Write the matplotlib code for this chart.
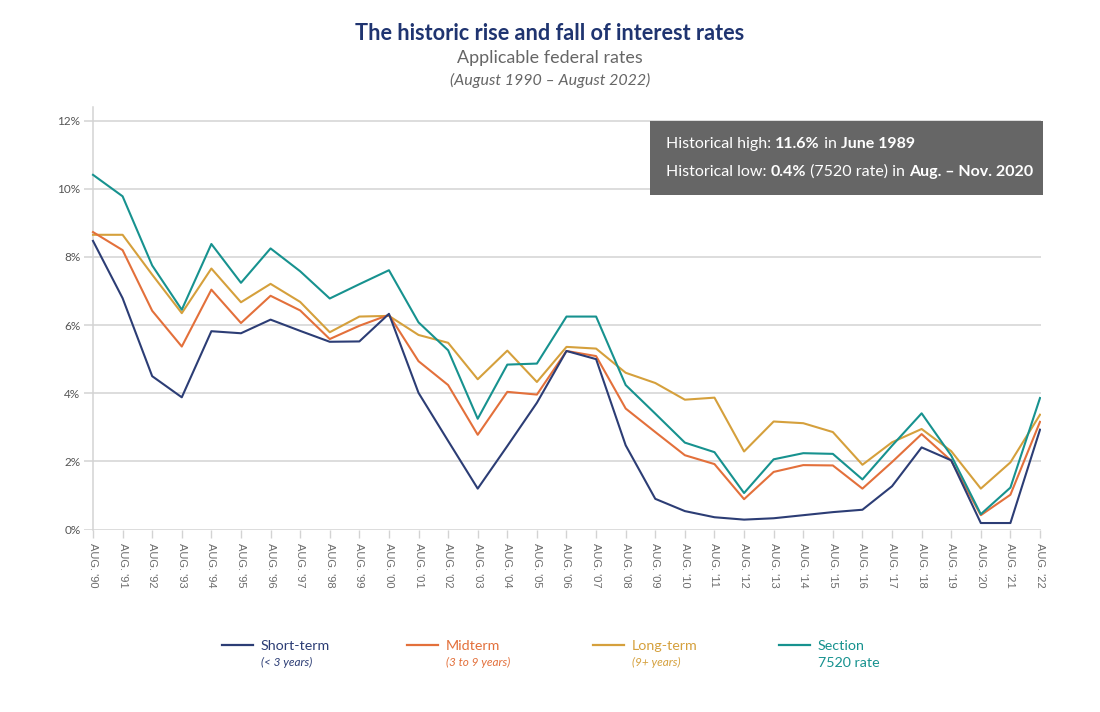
import matplotlib
matplotlib.use("Agg")
import matplotlib.pyplot as plt
from matplotlib.lines import Line2D
from matplotlib.patches import Rectangle

plt.rcParams['font.family'] = ['Lato', 'DejaVu Sans']

# values (percent), Aug 1990 .. Aug 2022
years = list(range(1990, 2023))
short_term = [8.47, 6.79, 4.50, 3.88, 5.82, 5.76, 6.16, 5.83, 5.51, 5.52, 6.33,
              4.01, 2.60, 1.20, 2.45, 3.72, 5.24, 5.00, 2.47, 0.90, 0.54, 0.36,
              0.29, 0.33, 0.42, 0.51, 0.58, 1.27, 2.41, 2.03, 0.19, 0.19, 2.93]
midterm = [8.73, 8.20, 6.42, 5.37, 7.04, 6.06, 6.86, 6.43, 5.59, 5.98, 6.30,
           4.94, 4.24, 2.78, 4.04, 3.96, 5.24, 5.09, 3.55, 2.86, 2.18, 1.92,
           0.89, 1.69, 1.89, 1.88, 1.20, 1.98, 2.80, 2.02, 0.42, 1.02, 3.16]
long_term = [8.65, 8.65, 7.48, 6.35, 7.66, 6.67, 7.21, 6.68, 5.79, 6.25, 6.27,
             5.71, 5.48, 4.41, 5.25, 4.33, 5.36, 5.31, 4.60, 4.30, 3.81, 3.87,
             2.29, 3.17, 3.12, 2.86, 1.90, 2.56, 2.95, 2.30, 1.20, 1.97, 3.37]
section_7520 = [10.41, 9.78, 7.75, 6.45, 8.38, 7.24, 8.25, 7.58, 6.78, 7.20, 7.61,
                6.08, 5.26, 3.25, 4.84, 4.87, 6.25, 6.25, 4.24, 3.40, 2.55, 2.27,
                1.07, 2.06, 2.24, 2.22, 1.47, 2.46, 3.41, 2.17, 0.45, 1.23, 3.86]
x_labels = [f"AUG. '{y % 100:02d}" for y in years]
y_ticks = [0, 2, 4, 6, 8, 10, 12]

navy = '#2c3d75'
orange = '#e3703b'
gold = '#d5a03c'
teal = '#17928f'
grid_col = '#d3d3d3'

W, H = 1100, 712
fig = plt.figure(figsize=(W / 100, H / 100), dpi=100)

# axes placed in pixel terms
px_per_x = 947 / 32
x0, x1 = -0.3, 32.05
left_px = 93 + x0 * px_per_x
width_px = (x1 - x0) * px_per_x
ymax = 12.4
px_per_y = 34.07
ax = fig.add_axes([left_px / W, (H - 529.5) / H, width_px / W, ymax * px_per_y / H])

xs = list(range(len(years)))
ax.plot(xs, short_term, color=navy, lw=1.5, zorder=5)
ax.plot(xs, midterm, color=orange, lw=1.5, zorder=4)
ax.plot(xs, long_term, color=gold, lw=1.5, zorder=3)
ax.plot(xs, section_7520, color=teal, lw=1.5, zorder=6)

ax.set_xlim(x0, x1)
ax.set_ylim(0, ymax)
ax.set_yticks(y_ticks)
ax.set_yticklabels([f"{v}%" for v in y_ticks])
ax.set_xticks(xs)
ax.set_xticklabels(x_labels, rotation=270, fontsize=8, color='#6b6b6b',
                   family=['Liberation Sans', 'DejaVu Sans'])
ax.tick_params(axis='x', length=6, width=1, color=grid_col, pad=4)
ax.tick_params(axis='y', length=0, pad=9, labelsize=8.5, labelcolor='#555555')
for lab in ax.get_yticklabels():
    lab.set_fontweight('bold')
ax.grid(axis='y', color=grid_col, lw=1.1)
ax.set_axisbelow(True)
for s in ['top', 'right', 'bottom']:
    ax.spines[s].set_visible(False)
ax.spines['left'].set_position(('data', 0))
ax.spines['left'].set_color(grid_col)
ax.spines['left'].set_linewidth(1.1)

# titles
fig.text(550 / W, 1 - 33 / H, "The historic rise and fall of interest rates",
         ha='center', va='center', fontsize=15.6, fontweight='bold', color='#1f3470')
fig.text(550 / W, 1 - 58 / H, "Applicable federal rates",
         ha='center', va='center', fontsize=12.9, color='#666666')
fig.text(550 / W, 1 - 80 / H, "(August 1990 \u2013 August 2022)",
         ha='center', va='center', fontsize=11.5, style='italic', color='#666666')

# note box
fig.patches.append(Rectangle((650 / W, 1 - 195 / H), 393 / W, 74 / H,
                             transform=fig.transFigure, facecolor='#666666',
                             edgecolor='none', zorder=10))
renderer = fig.canvas.get_renderer()


def rich_line(x_px, y_px, parts):
    x = x_px
    for s, w in parts:
        t = fig.text(x / W, 1 - y_px / H, s, fontsize=11.5, fontweight=w,
                     color='white', va='center', ha='left', zorder=11)
        x += t.get_window_extent(renderer).width


rich_line(666, 144, [("Historical high: ", 'normal'), ("11.6%", 'bold'),
                     (" in ", 'normal'), ("June 1989", 'bold')])
rich_line(666, 172, [("Historical low: ", 'normal'), ("0.4%", 'bold'),
                     (" (7520 rate) in ", 'normal'), ("Aug. \u2013 Nov. 2020", 'bold')])

# legend
legend_items = [
    (222, navy, "Short-term", "(< 3 years)", True),
    (407, orange, "Midterm", "(3 to 9 years)", True),
    (593, gold, "Long-term", "(9+ years)", True),
    (779, teal, "Section", "7520 rate", False),
]
for lx, col, main, sub, sub_italic in legend_items:
    fig.lines.append(Line2D([lx / W, (lx + 31) / W], [1 - 645 / H, 1 - 645 / H],
                            transform=fig.transFigure, color=col, lw=1.6))
    fig.text((lx + 39) / W, 1 - 646 / H, main, fontsize=10.3, color=col,
             va='center', ha='left')
    if sub_italic:
        fig.text((lx + 39) / W, 1 - 662 / H, sub, fontsize=8.5, style='italic',
                 color=col, va='center', ha='left')
    else:
        fig.text((lx + 39) / W, 1 - 663 / H, sub, fontsize=10.3, color=col,
                 va='center', ha='left')

fig.savefig("out.png", dpi=100)
